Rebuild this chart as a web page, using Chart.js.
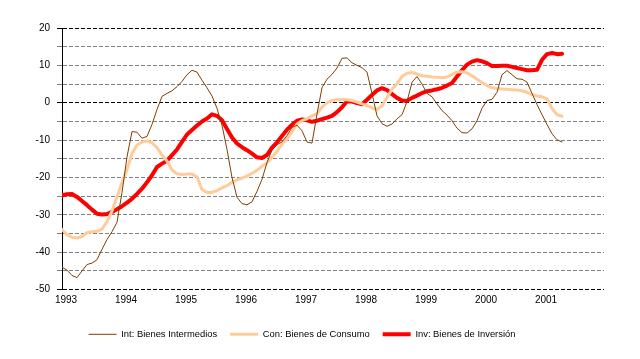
<!DOCTYPE html>
<html>
<head>
<meta charset="utf-8">
<script src="https://cdn.jsdelivr.net/npm/chart.js@4"></script>
<style>
  html, body { margin: 0; padding: 0; background: #fff; }
  #wrap { width: 640px; height: 359px; position: relative; }
</style>
</head>
<body>
<div id="wrap"><canvas id="chart"></canvas></div>
<script>
"use strict";

// monthly values, Jan 1993 .. May 2001
const yearLabels = ["1993", "1994", "1995", "1996", "1997", "1998", "1999", "2000", "2001"];

const intermedios = [
  -44, -44.8, -46.2, -46.8, -45, -43.3, -42.9, -42, -39.2, -36.6, -34.5, -32,
  -24, -14.5, -7.7, -7.9, -9.5, -9, -5.8, -1.8, 1.7, 2.5, 3.2, 4.3,
  5.7, 7.5, 8.7, 8.2, 6, 4, 1.8, -1.5, -6, -12.5, -20, -25.3,
  -27, -27.3, -26.5, -23.7, -20.5, -16, -12.6, -11.2, -10.5, -8.8, -6.6, -6,
  -7.5, -10.5, -10.8, -3, 4, 6.3, 7.6, 9.3, 11.9, 12, 10.7, 10,
  9.4, 8.2, 2.5, -3.5, -5.6, -6.3, -5.7, -4.3, -3.2, 0.3, 5.5, 7,
  5, 2.5, 1.6, -0.3, -2.1, -3.3, -4.8, -6.8, -8, -8.1, -7, -4.8,
  -1.5, 0.6, 0.9, 2.8, 7.5, 8.6, 7.5, 6.4, 6.3, 5.5, 2.5, -0.5,
  -3.2, -5.8, -8.3, -9.9, -10.5
];

const consumo = [
  -33.9, -35.3, -36, -36.2, -35.8, -34.8, -34.5, -34.4, -33.8, -31.8, -29, -25.2,
  -21.3, -17.9, -13.6, -11.3, -10.5, -10.2, -10.7, -12, -14, -15.6, -18, -19,
  -19.2, -19.1, -19.1, -19.8, -23.2, -24, -24, -23.5, -22.8, -22.2, -21.3, -20.6,
  -20.2, -19.6, -18.9, -18.1, -17, -16.1, -14.6, -13, -11, -9.7, -7.8, -5.7,
  -4.8, -4.3, -3.5, -2.9, -1.2, 0, 0.6, 0.8, 0.9, 0.8, 0.6, 0.2,
  -0.3, -0.8, -1.4, -1.8, -0.8, 1.4, 3.6, 5.1, 7, 7.9, 8.1, 7.7,
  7.2, 7.1, 6.9, 6.8, 6.7, 6.9, 7.6, 8.2, 8.3, 8, 7.2, 6.3,
  5.4, 4.6, 4, 3.8, 3.7, 3.6, 3.5, 3.4, 3.2, 2.8, 2.2, 1.8,
  1.6, 1, -1.5, -3.2, -3.6
];

const inversion = [
  -24.8, -24.5, -24.4, -25.2, -26.3, -27.4, -28.6, -29.7, -29.9, -29.8, -29.2, -28.5,
  -27.7, -26.7, -25.7, -24.4, -23, -21.3, -19.4, -17.2, -16.3, -15.5, -14, -12.5,
  -10.5, -8.5, -7.3, -6.1, -5, -4.2, -3.1, -3.5, -4.7, -7, -9.3, -10.9,
  -11.9, -12.7, -13.6, -14.6, -14.8, -14, -12, -10.6, -8.9, -7.2, -5.9, -4.8,
  -4.5, -4.7, -5.1, -4.8, -4.4, -4, -3.5, -2.5, -1.2, 0.4, 0.3, -0.1,
  -0.4, 0.8, 2.1, 3.3, 3.9, 3.4, 2.3, 1.3, 0.6, 0.5, 1.3, 1.9,
  2.6, 3.1, 3.3, 3.6, 4, 4.6, 5.3, 7, 8.7, 10.2, 11, 11.4,
  11.1, 10.6, 9.8, 9.8, 9.9, 9.9, 9.6, 9.3, 9, 8.7, 8.7, 8.8,
  11.5, 13, 13.3, 13, 13.1
];

const toPoints = (arr) => arr.map((v, i) => ({ x: i, y: v }));

const font = { family: "'Liberation Sans', Arial, sans-serif", size: 10 };
const legendFont = { family: "'Liberation Sans', Arial, sans-serif", size: 9.4 };
Chart.defaults.color = "#000";

new Chart(document.getElementById("chart"), {
  type: "line",
  data: {
    datasets: [
      {
        label: "Int: Bienes Intermedios",
        data: toPoints(intermedios),
        borderColor: "#7f3f00",
        borderWidth: 1,
      },
      {
        label: "Con: Bienes de Consumo",
        data: toPoints(consumo),
        borderColor: "#ffcc99",
        borderWidth: 3,
      },
      {
        label: "Inv: Bienes de Inversión",
        data: toPoints(inversion),
        borderColor: "#ff0000",
        borderWidth: 4,
      },
    ],
  },
  options: {
    responsive: true,
    maintainAspectRatio: false,
    animation: false,
    elements: {
      point: { radius: 0, hoverRadius: 0 },
      line: { tension: 0, borderJoinStyle: "round", borderCapStyle: "round" },
    },
    layout: { padding: { left: 0, right: 36, top: 28, bottom: 10 } },
    scales: {
      x: {
        type: "linear",
        min: 0,
        max: 108.4,
        grid: { display: false, drawTicks: false },
        border: { display: false },
        ticks: {
          stepSize: 12,
          autoSkip: false,
          maxRotation: 0,
          padding: 5,
          labelOffset: 4,
          font: font,
          callback: (v) => yearLabels[v / 12] || "",
        },
        afterFit: (scale) => { scale.height = 27; },
      },
      y: {
        min: -50,
        max: 20,
        grid: {
          color: (ctx) => {
            const v = ctx.tick && ctx.tick.value;
            return v === 0 || v === 20 || v === -50 ? "#000" : "#808080";
          },
          tickLength: 5,
        },
        border: { display: true, color: "#000", width: 1, dash: [4, 2] },
        ticks: {
          stepSize: 5,
          padding: 7,
          font: font,
          callback: (v) => (v % 10 === 0 ? v : ""),
        },
        afterFit: (scale) => { scale.width = 62; },
      },
    },
    plugins: {
      tooltip: { enabled: false },
      legend: {
        position: "bottom",
        labels: {
          usePointStyle: true,
          pointStyle: "line",
          pointStyleWidth: 28,
          padding: 13,
          font: legendFont,
          color: "#000",
        },
      },
    },
  },
});
</script>
</body>
</html>
